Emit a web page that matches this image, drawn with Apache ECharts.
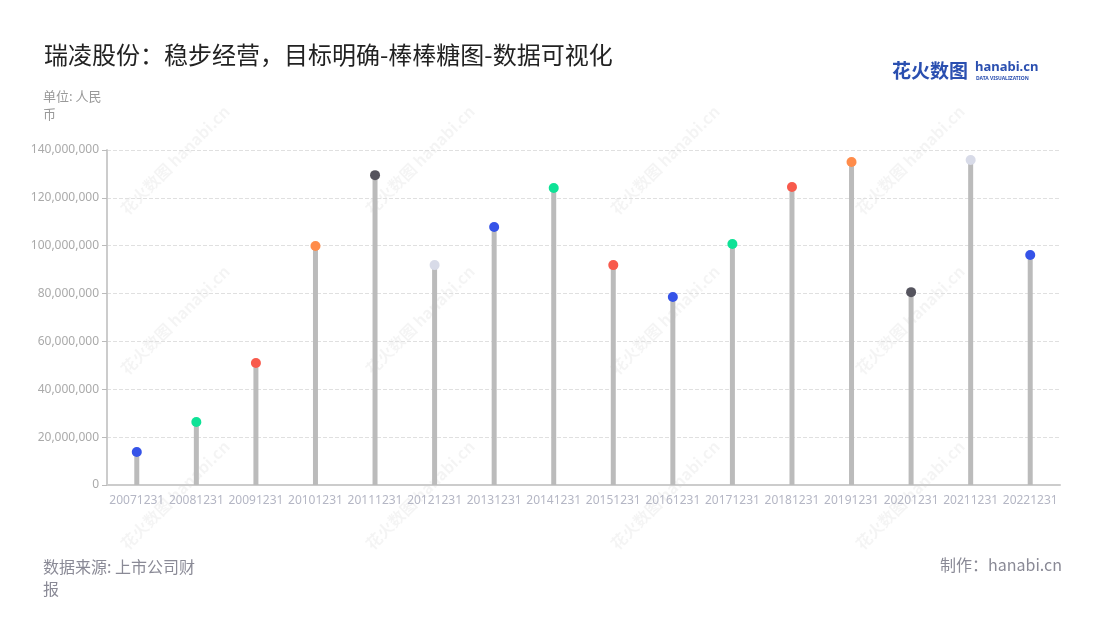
<!DOCTYPE html>
<html><head><meta charset="utf-8">
<script src="https://cdn.jsdelivr.net/npm/echarts@6/dist/echarts.min.js"></script>
<style>html,body{margin:0;padding:0;background:#fff}#c{width:1100px;height:620px}</style>
</head><body><div id="c"></div>
<script>
const categories = ['20071231','20081231','20091231','20101231','20111231','20121231','20131231','20141231','20151231','20161231','20171231','20181231','20191231','20201231','20211231','20221231'];
const values = [13800000, 26300000, 51000000, 99900000, 129500000, 91900000, 107800000, 124100000, 91900000, 78600000, 100700000, 124500000, 135000000, 80600000, 135800000, 96100000];
const dotColors = ['#3553e8','#0ee296','#f85a4c','#ff8c4a','#55545e','#d8dbe8','#3553e8','#0ee296','#f85a4c','#3553e8','#0ee296','#f85a4c','#ff8c4a','#55545e','#d8dbe8','#3553e8'];
const yTicks = [0, 20000000, 40000000, 60000000, 80000000, 100000000, 120000000, 140000000];

const chart = echarts.init(document.getElementById('c'), null, {renderer:'canvas'});
const wm = [];
const wmX = [175, 420, 665, 910];
const wmY = [160, 320, 495];
wmY.forEach(y => wmX.forEach(x => {
  wm.push({type:'text', x:x, y:y, rotation: Math.PI/4, z:0, silent:true,
    style:{text:'花火数图 hanabi.cn', fill:'rgba(0,0,0,0.045)', font:'bold 16px "Noto Sans CJK SC"', align:'center', verticalAlign:'middle'}});
}));
chart.setOption({
  animation:false,
  backgroundColor:'#fff',
  title:{text:'瑞凌股份：稳步经营，目标明确-棒棒糖图-数据可视化', left:39, top:38,
    textStyle:{fontSize:24, fontWeight:'normal', color:'#222', fontFamily:'"Noto Sans CJK SC"'}},
  graphic: wm.concat([
    {type:'text', left:43, top:87, style:{text:'单位: 人民\n币', fill:'#999', font:'13px "Noto Sans CJK SC"', lineHeight:18}},
    {type:'text', left:43, top:556, style:{text:'数据来源: 上市公司财\n报', fill:'#8a8a96', font:'16px "Noto Sans CJK SC"', lineHeight:22}},
    {type:'text', right:38, top:557, style:{text:'制作：hanabi.cn', fill:'#8a8a96', font:'16px "Noto Sans CJK SC"', align:'right'}},
    {type:'text', left:892, top:61, style:{text:'花火数图', fill:'#2a4fb0', font:'bold 19px "Noto Sans CJK SC"'}},
    {type:'text', left:975, top:61, style:{text:'hanabi.cn', fill:'#2a4fb0', font:'bold 13px "Noto Sans"'}},
    {type:'text', left:976, top:76, style:{text:'DATA VISUALIZATION', fill:'#2a4fb0', font:'bold 5px "Noto Sans"'}}
  ]),
  grid:{left:107, right:40, top:150, bottom:135, containLabel:false},
  xAxis:{type:'category', data:categories,
    axisLine:{lineStyle:{color:'#cccccc', width:2}},
    axisTick:{alignWithLabel:true, lineStyle:{color:'#bbbbbb'}},
    axisLabel:{color:'#b4b6c4', fontSize:12, margin:10, interval:0, fontFamily:'"Noto Sans"'}},
  yAxis:{type:'value', min:0, max:140000000, interval:20000000,
    axisLine:{show:true, lineStyle:{color:'#cccccc', width:2}},
    axisTick:{show:true, lineStyle:{color:'#bbbbbb'}},
    axisLabel:{color:'#aaaaaa', fontSize:12, fontFamily:'"Noto Sans"',
      formatter: v => v.toLocaleString('en-US')},
    splitLine:{lineStyle:{type:'dashed', color:'#e0e0e0'}}},
  series:[
    {type:'bar', data:values, barWidth:5, itemStyle:{color:'#bbbbbb'}, silent:true},
    {type:'scatter', data:values.map((v,i)=>({value:v, itemStyle:{color:dotColors[i], opacity:1}})), symbolSize:10, z:5}
  ]
});
</script></body></html>
